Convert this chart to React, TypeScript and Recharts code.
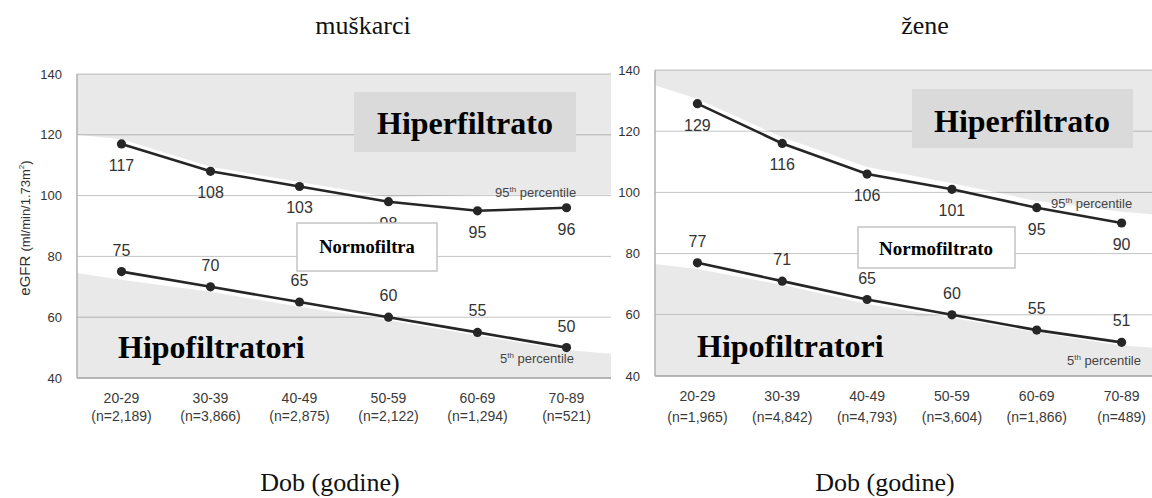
import React from "react";
import { ComposedChart, Line, Area, XAxis, YAxis, CartesianGrid, LabelList } from "recharts";

const ages = ["20-29", "30-39", "40-49", "50-59", "60-69", "70-89"];
const menCounts = ["(n=2,189)", "(n=3,866)", "(n=2,875)", "(n=2,122)", "(n=1,294)", "(n=521)"];
const womenCounts = ["(n=1,965)", "(n=4,842)", "(n=4,793)", "(n=3,604)", "(n=1,866)", "(n=489)"];

const men95 = [117, 108, 103, 98, 95, 96];
const men5 = [75, 70, 65, 60, 55, 50];
const women95 = [129, 116, 106, 101, 95, 90];
const women5 = [77, 71, 65, 60, 55, 51];

// edges of the shaded zones (x = age group position, 0.5 / 6.5 = plot edges)
const shadeX = [0.5, 1, 2, 3, 4, 5, 6, 6.5];
const menHyperEdge = [120, 118.5, 109.5, 104.5, 99.5, 100.3, 100.3, 100.3];
const menHypoEdge = [74.5, 72.3, 68.4, 63.4, 59, 54, 49.2, 48];
const womenHyperEdge = [135, 130.5, 118, 108.3, 103, 97.2, 93.7, 92.5];
const womenHypoEdge = [76.6, 75, 69.8, 63.5, 59, 54.3, 50, 49];

const yTicks = [40, 60, 80, 100, 120, 140];
const xTicks = [1, 2, 3, 4, 5, 6];

const SANS = "'Liberation Sans', Arial, sans-serif";
const SERIF = "'Liberation Serif', 'Times New Roman', serif";
const INK = "#262626";

const lineRows = (hi: number[], lo: number[]) =>
  hi.map((v, i) => ({ x: i + 1, upper: v, lower: lo[i] }));

const bandRows = (edge: number[], top: boolean) =>
  shadeX.map((x, i) => ({ x, band: top ? [edge[i], 140] : [40, edge[i]] }));

const pointLabel = (dy: number) => (props: any) => {
  const x = props.x ?? props.viewBox?.x;
  const y = props.y ?? props.viewBox?.y;
  return (
    <text x={x} y={y + dy} textAnchor="middle" fontSize={16} fontFamily={SANS} fill="#333">
      {props.value}
    </text>
  );
};

const makeXTick = (counts: string[], gap: number) => (props: any) => {
  const { x, y, payload } = props;
  const i = payload.value - 1;
  return (
    <g>
      <text x={x} y={y + 25} textAnchor="middle" fontSize={14} fontFamily={SANS} fill="#3a3a3a">
        {ages[i]}
      </text>
      <text x={x} y={y + 25 + gap} textAnchor="middle" fontSize={14} fontFamily={SANS} fill="#3a3a3a">
        {counts[i]}
      </text>
    </g>
  );
};

type PanelProps = {
  left: number;
  width: number;
  margin: { top: number; right: number; left: number; bottom: number };
  yWidth: number;
  xHeight: number;
  hi: number[];
  lo: number[];
  hyper: number[];
  hypo: number[];
  counts: string[];
  gap: number;
};

function Panel(p: PanelProps) {
  return (
    <div style={{ position: "absolute", left: p.left, top: 0 }}>
      <ComposedChart width={p.width} height={440} data={lineRows(p.hi, p.lo)} margin={p.margin}>
        <CartesianGrid vertical={false} stroke="#c4c4c4" strokeWidth={1} />
        <XAxis
          type="number"
          dataKey="x"
          domain={[0.5, 6.5]}
          ticks={xTicks}
          interval={0}
          height={p.xHeight}
          tickLine={false}
          tickSize={0}
          tickMargin={0}
          axisLine={{ stroke: "#a8a8a8", strokeWidth: 1.5 }}
          tick={makeXTick(p.counts, p.gap)}
        />
        <YAxis
          domain={[40, 140]}
          ticks={yTicks}
          width={p.yWidth}
          tickLine={false}
          tickSize={6}
          tickMargin={9}
          axisLine={{ stroke: "#b0b0b0", strokeWidth: 1.5 }}
          tick={{ fill: "#333", fontSize: 13, fontFamily: SANS }}
        />
        <Area data={bandRows(p.hyper, true)} dataKey="band" type="linear" stroke="none" fill="#000" fillOpacity={0.085} isAnimationActive={false} />
        <Area data={bandRows(p.hypo, false)} dataKey="band" type="linear" stroke="none" fill="#000" fillOpacity={0.085} isAnimationActive={false} />
        <Line dataKey="upper" type="linear" stroke={INK} strokeWidth={2.6} dot={{ r: 4.6, fill: INK, stroke: INK, strokeWidth: 0 }} isAnimationActive={false}>
          <LabelList dataKey="upper" content={pointLabel(27)} />
        </Line>
        <Line dataKey="lower" type="linear" stroke={INK} strokeWidth={2.6} dot={{ r: 4.6, fill: INK, stroke: INK, strokeWidth: 0 }} isAnimationActive={false}>
          <LabelList dataKey="lower" content={pointLabel(-16)} />
        </Line>
      </ComposedChart>
    </div>
  );
}

function Percentile({ x, y, n }: { x: number; y: number; n: string }) {
  return (
    <text x={x} y={y} fontSize={13} fontFamily={SANS} fill="#444">
      {n}
      <tspan fontSize={8} dy={-5}>th</tspan>
      <tspan dy={5}> percentile</tspan>
    </text>
  );
}

export default function App() {
  return (
    <div style={{ position: "fixed", left: 0, top: 0, width: 1152, height: 498, overflow: "hidden", background: "#fff" }}>
      <Panel
        left={0}
        width={640}
        margin={{ top: 74, right: 29, left: 0, bottom: 0 }}
        yWidth={77}
        xHeight={62}
        hi={men95}
        lo={men5}
        hyper={menHyperEdge}
        hypo={menHypoEdge}
        counts={menCounts}
        gap={18}
      />
      <Panel
        left={580}
        width={600}
        margin={{ top: 70, right: 16, left: 0, bottom: 0 }}
        yWidth={75}
        xHeight={64}
        hi={women95}
        lo={women5}
        hyper={womenHyperEdge}
        hypo={womenHypoEdge}
        counts={womenCounts}
        gap={21}
      />
      <svg width={1152} height={498} style={{ position: "absolute", left: 0, top: 0, pointerEvents: "none" }}>
        <text x={363} y={34} textAnchor="middle" fontSize={26} fontFamily={SERIF} fill="#111">muškarci</text>
        <text x={925} y={34} textAnchor="middle" fontSize={26} fontFamily={SERIF} fill="#111">žene</text>
        <text x={330} y={491} textAnchor="middle" fontSize={26} fontFamily={SERIF} fill="#111">Dob (godine)</text>
        <text x={885} y={491} textAnchor="middle" fontSize={26} fontFamily={SERIF} fill="#111">Dob (godine)</text>

        <text transform="translate(30,228) rotate(-90)" textAnchor="middle" fontFamily={SANS} fill="#333">
          <tspan fontSize={15}>eGFR </tspan>
          <tspan fontSize={13}>(ml/min/1.73m</tspan>
          <tspan fontSize={8} dy={-6}>2</tspan>
          <tspan fontSize={13} dy={6}>)</tspan>
        </text>

        <rect x={354} y={92} width={222} height={60} fill="#dadada" />
        <text x={465} y={134} textAnchor="middle" fontSize={32} fontWeight="bold" fontFamily={SERIF} fill="#000">Hiperfiltrato</text>
        <rect x={912} y={89} width={221} height={59} fill="#dadada" />
        <text x={1022} y={132} textAnchor="middle" fontSize={32} fontWeight="bold" fontFamily={SERIF} fill="#000">Hiperfiltrato</text>

        <rect x={297} y={223} width={140} height={48} fill="#fff" stroke="#c4c4c4" strokeWidth={1.5} />
        <text x={367} y={253} textAnchor="middle" fontSize={18.5} fontWeight="bold" fontFamily={SERIF} fill="#000">Normofiltra</text>
        <rect x={858} y={227} width={157} height={41} fill="#fff" stroke="#c4c4c4" strokeWidth={1.5} />
        <text x={936} y={255} textAnchor="middle" fontSize={19} fontWeight="bold" fontFamily={SERIF} fill="#000">Normofiltrato</text>

        <rect x={78} y={318} width={265} height={59} fill="#e9e9e9" />
        <text x={118} y={358} fontSize={32} fontWeight="bold" fontFamily={SERIF} fill="#000">Hipofiltratori</text>
        <rect x={656} y={315} width={259} height={60} fill="#e9e9e9" />
        <text x={697} y={357} fontSize={32} fontWeight="bold" fontFamily={SERIF} fill="#000">Hipofiltratori</text>

        <Percentile x={495} y={197} n="95" />
        <Percentile x={500} y={363} n="5" />
        <Percentile x={1051} y={208} n="95" />
        <Percentile x={1067} y={365} n="5" />
      </svg>
    </div>
  );
}
